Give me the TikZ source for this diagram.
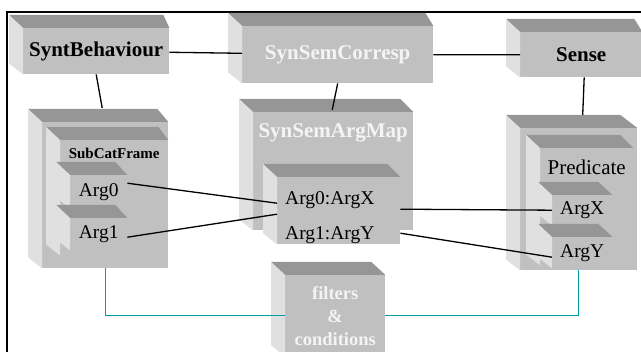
\documentclass[tikz,border=0pt]{standalone}
\usepackage{fontspec}
\setmainfont{Liberation Serif}
\definecolor{boxfront}{HTML}{C0C0C0}
\definecolor{boxtop}{HTML}{969696}
\definecolor{boxside}{HTML}{E0E0E0}
\definecolor{paletext}{HTML}{F4F4F4}
\definecolor{linkteal}{RGB}{0,160,160}
\tikzset{
        x=1pt, y=-1pt,  % pixel units, y grows downwards
        cube/.style={fill=boxfront, inner sep=0pt, anchor=north west}, % front face only
        big/.style={font=\bfseries\fontsize{21}{25}\selectfont},
        plain/.style={font=\fontsize{19.5}{23}\selectfont},
        link/.style={line width=1.3pt},
        tlink/.style={line width=1.2pt, linkteal}
        }
% top and left faces of a box, #2 = inset of the back right corner
\newcommand{\cubefaces}[2]{%
  \fill[boxtop] (#1.north west) -- ++(-14,-13) -- ([shift={(-#2pt,13pt)}]#1.north east) -- (#1.north east) -- cycle;
  \fill[boxside] (#1.north west) -- ++(-14,-13) -- ([shift={(-14pt,11pt)}]#1.south west) -- (#1.south west) -- cycle;
}

\begin{document}
\begin{tikzpicture}
        \useasboundingbox (0,0) rectangle (641,352);
        \draw[line width=1.8pt] (7,12) rectangle (700,400);
        % top row
        \node[cube, big, minimum width=146pt, minimum height=46pt] (synt) at (23,28) {SyntBehaviour}; \cubefaces{synt}{6}
        \node[cube, big, text=paletext, minimum width=191pt, minimum height=57pt] (corr) at (242,26) {SynSemCorresp}; \cubefaces{corr}{8}
        \node[cube, big, minimum width=122pt, minimum height=45pt] (sense) at (520,32) {Sense}; \cubefaces{sense}{8}
        % syntax side
        \node[cube, minimum width=126pt, minimum height=146pt] (syntfr) at (42,122) {}; \cubefaces{syntfr}{11}
        \node[cube, font=\bfseries\fontsize{15}{18}\selectfont, minimum width=108pt, text height=18pt, text depth=97pt] (subcat) at (60,140) {SubCatFrame}; \cubefaces{subcat}{10}
        \node[cube, plain, minimum width=57pt, minimum height=33pt] (arg0) at (70,175) {Arg0}; \cubefaces{arg0}{12}
        \node[cube, plain, minimum width=57pt, minimum height=32pt] (arg1) at (70,218) {Arg1}; \cubefaces{arg1}{12}
        % mapping
        \node[cube, big, text=paletext, minimum width=160pt, text height=25pt, text depth=93pt] (argmap) at (253,112) {SynSemArgMap}; \cubefaces{argmap}{13}
        \node[cube, font=\fontsize{19.5}{35}\selectfont, text width=107pt, inner xsep=8pt, minimum height=67pt, align=left] (mapping) at (277,177)
              {\rule{0pt}{27pt}Arg0:ArgX\\Arg1:ArgY}; \cubefaces{mapping}{13}
        % semantic side
        \node[cube, minimum width=117pt, minimum height=142pt] (semfr) at (520,128) {}; \cubefaces{semfr}{17}
        \node[cube, font=\fontsize{21}{25}\selectfont, minimum width=93pt, text height=26pt, text depth=91pt] (pred) at (540,148) {Predicate}; \cubefaces{pred}{13}
        \node[cube, plain, minimum width=60pt, minimum height=30pt] (argx) at (552,195) {ArgX}; \cubefaces{argx}{14}
        \node[cube, plain, minimum width=60pt, minimum height=31pt] (argy) at (552,237) {ArgY}; \cubefaces{argy}{14}
        % filters
        \node[cube, text=paletext, font=\bfseries\fontsize{18.5}{23}\selectfont, align=center, minimum width=100pt, minimum height=81pt] (filt) at (285,275)
              {filters\\\&\\conditions}; \cubefaces{filt}{14}
        % connectors
        \draw[link] (synt) -- (corr)
              (corr) -- (sense)
              (synt.south) -- ([shift={(-3pt,14pt)}]syntfr.north)
              (corr.south) -- ([shift={(-1pt,2pt)}]argmap.north)
              ([xshift=3pt]sense.south) -- ([shift={(4pt,13pt)}]semfr.north)
              ([yshift=8.5pt]arg0.east) -- ([yshift=7.5pt]mapping.west)
              ([yshift=-3pt]arg1.east) -- ([yshift=-3.5pt]mapping.west)
              ([yshift=1.5pt]mapping.east) -- (argx.west)
              ([yshift=-22.5pt]mapping.east) -- ([yshift=-4.5pt]argy.west);
        \draw[tlink] (syntfr.south) |- (filt.west)
              (filt.east) -| (semfr.south);
\end{tikzpicture}
\end{document}
